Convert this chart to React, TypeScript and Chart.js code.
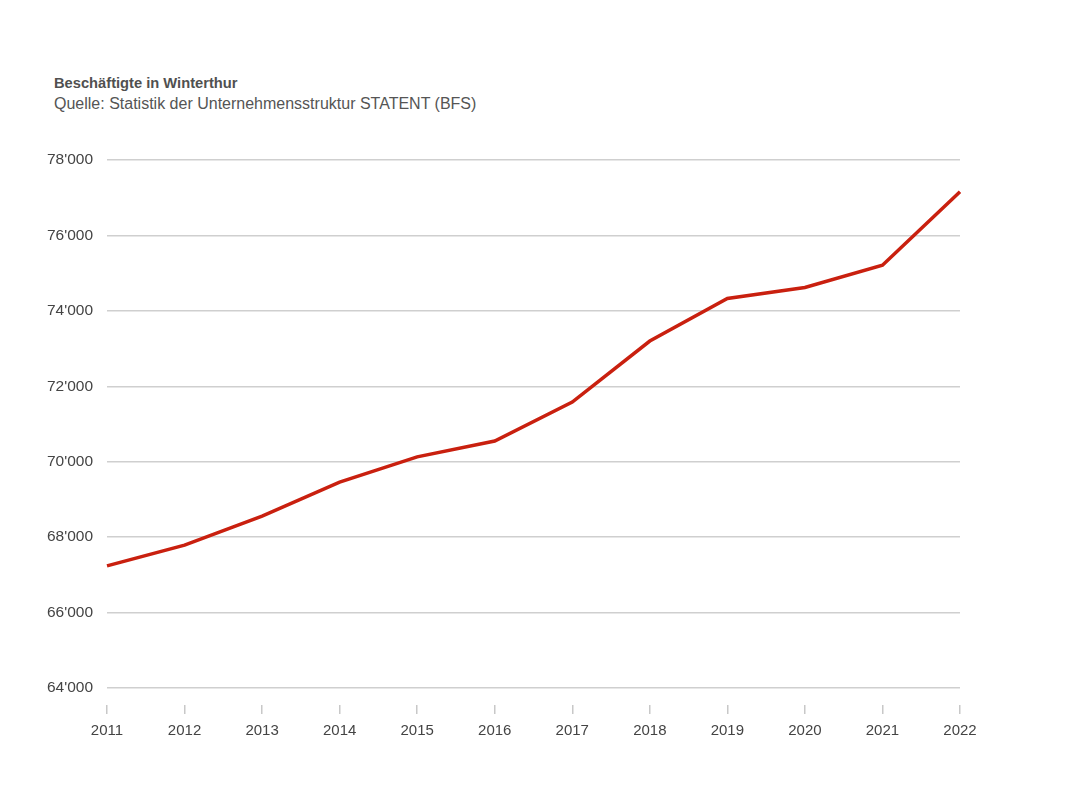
import React, { useEffect, useRef } from "react";
import { Chart, registerables } from "chart.js";

Chart.register(...registerables);

const years = ["2011", "2012", "2013", "2014", "2015", "2016", "2017", "2018", "2019", "2020", "2021", "2022"];
const employees = [67240, 67790, 68560, 69460, 70130, 70550, 71580, 73200, 74330, 74620, 75210, 77160];
const yTickValues = [64000, 66000, 68000, 70000, 72000, 74000, 76000, 78000];

const titleText = "Beschäftigte in Winterthur";
const subtitleText = "Quelle: Statistik der Unternehmensstruktur STATENT (BFS)";

const FONT = "'Liberation Sans', Arial, sans-serif";

function fmt(v: number): string {
  return String(Math.round(v)).replace(/\B(?=(\d{3})+(?!\d))/g, "'");
}

export default function App() {
  const ref = useRef<HTMLCanvasElement | null>(null);

  useEffect(() => {
    if (!ref.current) return;
    const chart = new Chart(ref.current, {
      type: "line",
      data: {
        labels: years,
        datasets: [
          {
            data: employees,
            borderColor: "#c9200f",
            borderWidth: 3.5,
            pointRadius: 0,
            tension: 0,
            fill: false,
          },
        ],
      },
      options: {
        animation: false,
        responsive: false,
        maintainAspectRatio: false,
        layout: { padding: { left: 0, right: 107, top: 160, bottom: 55 } },
        plugins: { legend: { display: false }, tooltip: { enabled: false }, title: { display: false } },
        scales: {
          x: {
            offset: false,
            grid: {
              drawOnChartArea: false,
              drawTicks: true,
              tickLength: 9,
              color: "#c8c8c8",
              lineWidth: 1.5,
            },
            border: { display: false },
            ticks: {
              color: "#444",
              font: { family: FONT, size: 15 },
              padding: 8,
              maxRotation: 0,
              autoSkip: false,
            },
            afterFit: (scale: any) => {
              scale.height = 40;
            },
          },
          y: {
            min: 63550,
            max: 78000,
            afterBuildTicks: (scale: any) => {
              scale.ticks = yTickValues.map((v) => ({ value: v }));
            },
            grid: { color: "#cfcfcf", lineWidth: 1.5, drawTicks: false },
            border: { display: false },
            ticks: {
              color: "#444",
              font: { family: FONT, size: 15.5 },
              padding: 14,
              callback: (v: any) => fmt(Number(v)),
            },
            afterFit: (scale: any) => {
              scale.width = 107;
            },
          },
        },
      },
    });
    return () => chart.destroy();
  }, []);

  return (
    <div style={{ position: "fixed", left: 0, top: 0, width: 1067, height: 800, background: "#fff" }}>
      <div
        style={{
          position: "absolute",
          left: 54,
          top: 75,
          fontFamily: FONT,
          fontSize: 14.7,
          fontWeight: "bold",
          color: "#505050",
          whiteSpace: "nowrap",
        }}
      >
        {titleText}
      </div>
      <div
        style={{
          position: "absolute",
          left: 54,
          top: 95,
          fontFamily: FONT,
          fontSize: 16,
          color: "#555",
          whiteSpace: "nowrap",
        }}
      >
        {subtitleText}
      </div>
      <canvas ref={ref} width={1067} height={800} style={{ position: "absolute", left: 0, top: 0 }} />
    </div>
  );
}
